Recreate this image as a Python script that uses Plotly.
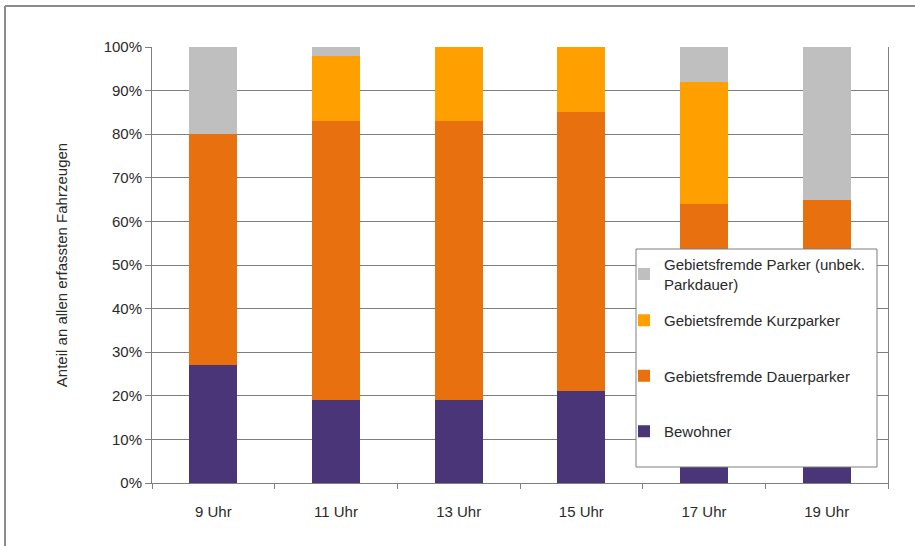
import plotly.graph_objects as go

categories = ["9 Uhr", "11 Uhr", "13 Uhr", "15 Uhr", "17 Uhr", "19 Uhr"]
bewohner = [27, 19, 19, 21, 20, 21]
dauerparker = [53, 64, 64, 64, 44, 44]
kurzparker = [0, 15, 17, 15, 28, 0]
unbekannt = [20, 2, 0, 0, 8, 35]
y_ticks = [0, 10, 20, 30, 40, 50, 60, 70, 80, 90, 100]
y_ticklabels = [f"{v}%" for v in y_ticks]

series = [
    ("Bewohner", bewohner, "#4a3579", 3, "legend2"),
    ("Gebietsfremde Dauerparker", dauerparker, "#e8700e", 2, "legend2"),
    ("Gebietsfremde Kurzparker", kurzparker, "#ffa000", 1, "legend2"),
    ("Gebietsfremde Parker (unbek.<br>Parkdauer)", unbekannt, "#bfbfbf", 1, "legend"),
]

FONT = "Liberation Sans, Arial, sans-serif"

fig = go.Figure()
for i, (name, vals, color, rank, leg) in enumerate(series):
    fig.add_trace(go.Bar(
        x=categories, y=vals, name=name, marker_color=color,
        marker_line_width=0, width=0.39, legendgroup=f"g{i}", legendrank=rank,
        legend=leg,
    ))

def px_x(px):
    return (px - 152) / 736

def px_y(py):
    return (483 - py) / 436

legend_common = dict(
    xanchor="left", yanchor="top",
    traceorder="grouped", tracegroupgap=33,
    bgcolor="rgba(0,0,0,0)", borderwidth=0,
    font=dict(family=FONT, size=15, color="#2a2a2a"),
    itemwidth=30,
)

fig.update_layout(
    barmode="stack",
    width=915, height=546,
    margin=dict(l=152, r=27, t=47, b=63),
    paper_bgcolor="white", plot_bgcolor="white",
    font=dict(family=FONT, size=15, color="#2a2a2a"),
    showlegend=True,
    legend=dict(x=px_x(624), y=px_y(248), **legend_common),
    legend2=dict(x=px_x(624), y=px_y(304), **legend_common),
    xaxis=dict(
        type="category", showline=True, linecolor="#7f7f7f", linewidth=1,
        ticks="outside", tickson="boundaries", ticklen=5, tickcolor="#7f7f7f",
        showgrid=False, tickfont=dict(size=15), ticklabelstandoff=15,
    ),
    yaxis=dict(
        title=dict(text="Anteil an allen erfassten Fahrzeugen", font=dict(size=15), standoff=32),
        range=[0, 100], tickvals=y_ticks, ticktext=y_ticklabels,
        showline=True, linecolor="#7f7f7f", linewidth=1, mirror=True,
        ticks="outside", ticklen=6, tickcolor="#7f7f7f",
        showgrid=True, gridcolor="#7f7f7f", gridwidth=1,
        tickfont=dict(size=15), zeroline=False,
    ),
    shapes=[
        dict(type="rect", xref="paper", yref="paper", layer="above",
             x0=px_x(636), x1=px_x(877), y0=px_y(467), y1=px_y(249),
             fillcolor="white", line=dict(color="#7f7f7f", width=1)),
        dict(type="line", xref="paper", yref="paper",
             x0=px_x(5), x1=1.1, y0=px_y(6), y1=px_y(6),
             line=dict(color="#8c8c8c", width=2)),
        dict(type="line", xref="paper", yref="paper",
             x0=px_x(5), x1=px_x(5), y0=px_y(6), y1=-0.2,
             line=dict(color="#8c8c8c", width=2)),
    ],
)

fig.write_html("out.html")
